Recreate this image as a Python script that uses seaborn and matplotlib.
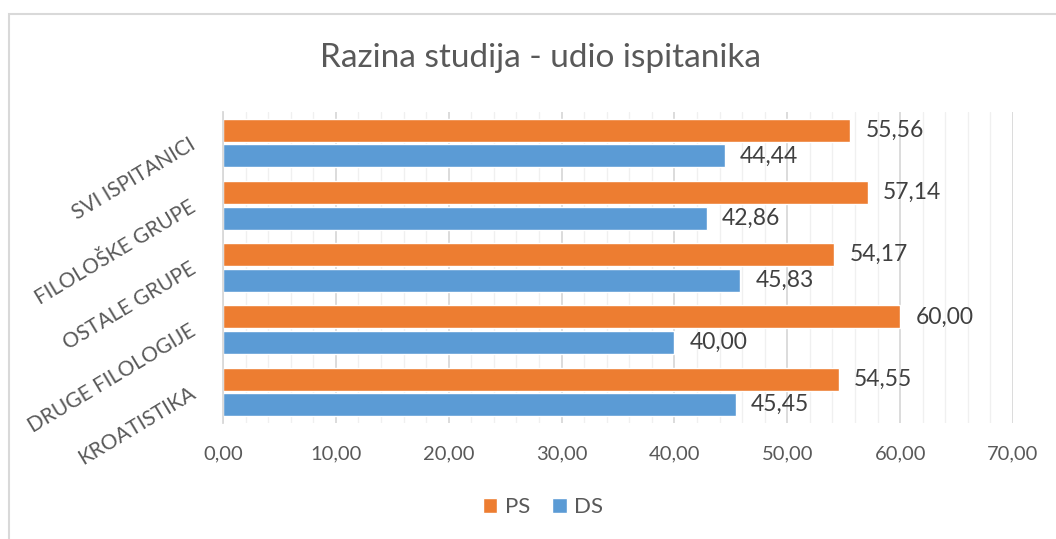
import numpy as np
import pandas as pd
import matplotlib
matplotlib.use("Agg")
import matplotlib.pyplot as plt
from matplotlib.patches import Patch, Rectangle
from matplotlib.ticker import MultipleLocator
import seaborn as sns

# data
categories = ["SVI ISPITANICI", "FILOLOŠKE GRUPE", "OSTALE GRUPE", "DRUGE FILOLOGIJE", "KROATISTIKA"]
ps_values = [55.56, 57.14, 54.17, 60.00, 54.55]
ds_values = [44.44, 42.86, 45.83, 40.00, 45.45]
series = ["PS", "DS"]
x_ticks = [0, 10, 20, 30, 40, 50, 60, 70]

df = pd.DataFrame({
    "kategorija": categories * 2,
    "serija": ["PS"] * len(categories) + ["DS"] * len(categories),
    "udio": ps_values + ds_values,
})

sns.set_style("white")
plt.rcParams["font.family"] = ["Lato", "DejaVu Sans"]
text_col = "#595959"
colors = {"PS": "#ED7D31", "DS": "#5B9BD5"}

fig = plt.figure(figsize=(10.56, 5.39), dpi=100)
ax = fig.add_axes([223 / 1056, 1 - 423 / 539, 790 / 1056, 311 / 539])

sns.barplot(data=df, y="kategorija", x="udio", hue="serija", order=categories,
            hue_order=series, palette=colors, orient="h", width=0.82, gap=0.1,
            saturation=1, ax=ax, legend=False)

def fmt(v):
    return f"{v:.2f}".replace(".", ",")

for cont, vals in zip(ax.containers, [ps_values, ds_values]):
    ax.bar_label(cont, labels=[fmt(v) for v in vals], padding=11, fontsize=16.5, color="#404040")

ax.set_xlim(0, 70)
ax.set_ylim(len(categories) - 0.5, -0.5)
ax.set_xticks(x_ticks)
ax.set_xticklabels([fmt(v) for v in x_ticks])
ax.xaxis.set_minor_locator(MultipleLocator(2))
ax.grid(axis="x", which="major", color="#d9d9d9", lw=1.3)
ax.grid(axis="x", which="minor", color="#f0f0f0", lw=1.0)
ax.set_axisbelow(True)

ax.set_yticks(range(len(categories)))
ax.set_yticklabels(categories, rotation=31, ha="right", va="center", rotation_mode="anchor")
ax.set_yticks(np.arange(-0.5, len(categories)), minor=True)
ax.tick_params(axis="y", which="major", length=0, pad=21, labelsize=15, labelcolor=text_col)
ax.tick_params(axis="y", which="minor", length=5, width=1.3, color="#d9d9d9", direction="out")
ax.tick_params(axis="x", which="both", length=0, pad=16, labelsize=14.5, labelcolor=text_col)

for s in ["top", "right", "bottom"]:
    ax.spines[s].set_visible(False)
ax.spines["left"].set_color("#d9d9d9")
ax.spines["left"].set_linewidth(1.3)
ax.set_xlabel("")
ax.set_ylabel("")

fig.text(540 / 1056, 1 - 58 / 539, "Razina studija - udio ispitanika", ha="center", va="center",
         fontsize=24, color=text_col)

handles = [Patch(facecolor=colors[s], label=s) for s in series]
fig.legend(handles=handles, loc="center", bbox_to_anchor=(543 / 1056, 1 - 507 / 539), ncol=2,
           frameon=False, fontsize=16, labelcolor=text_col, handlelength=0.65, handleheight=0.65,
           handletextpad=0.35, columnspacing=1.0)

# outer chart border (only top and left visible)
fig.patches.append(Rectangle((9 / 1056, -0.1), 1.2, 1 - 14 / 539 + 0.1, transform=fig.transFigure,
                             fill=False, edgecolor="#d9d9d9", lw=1.5))

fig.savefig("out.png", dpi=100)
